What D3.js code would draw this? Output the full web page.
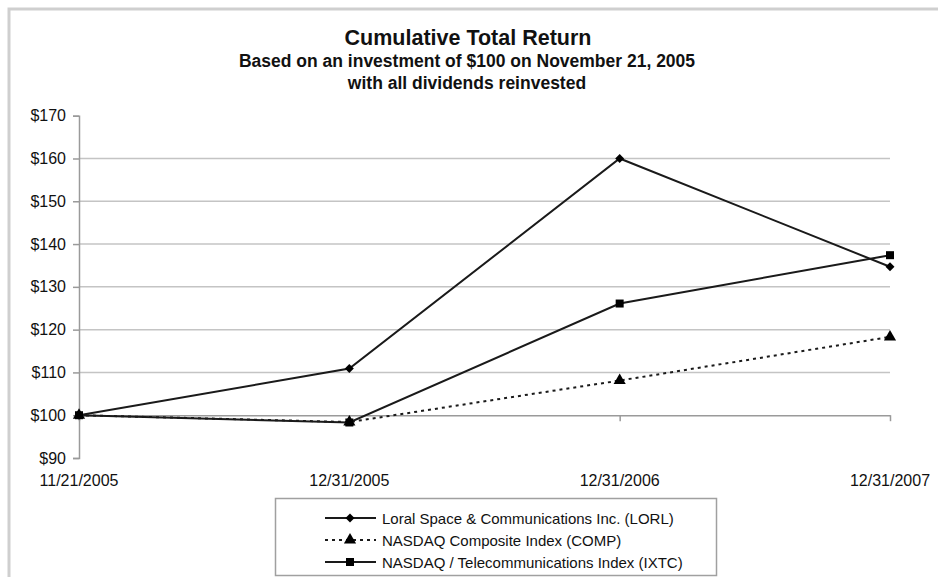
<!DOCTYPE html>
<html><head><meta charset="utf-8">
<script src="https://cdn.jsdelivr.net/npm/d3@7/dist/d3.min.js"></script>
<style>body{margin:0;background:#fff}svg{display:block}text{font-family:"Liberation Sans",Arial,sans-serif;fill:#111}</style>
</head><body>
<svg id="c" width="938" height="577"></svg>
<script>
const categories = ["11/21/2005","12/31/2005","12/31/2006","12/31/2007"];
const lorl = [100, 110.9, 160.0, 134.7];
const comp = [100, 98.4, 108.1, 118.3];
const ixtc = [100, 98.3, 126.1, 137.4];
const yTicks = [90,100,110,120,130,140,150,160,170];
const seriesNames = ["Loral Space & Communications Inc. (LORL)","NASDAQ Composite Index (COMP)","NASDAQ / Telecommunications Index (IXTC)"];

const svg = d3.select("#c");
// frame
svg.append("path").attr("d","M9,577 V9 H938").attr("fill","none").attr("stroke","#cfcfcf").attr("stroke-width",3);

// titles
svg.append("text").attr("x",468).attr("y",45).attr("text-anchor","middle").attr("font-weight","bold").attr("font-size",21.5).text("Cumulative Total Return");
svg.append("text").attr("x",467).attr("y",67).attr("text-anchor","middle").attr("font-weight","bold").attr("font-size",17.5).text("Based on an investment of $100 on November 21, 2005");
svg.append("text").attr("x",467).attr("y",89).attr("text-anchor","middle").attr("font-weight","bold").attr("font-size",17.5).text("with all dividends reinvested");

const x = d3.scalePoint().domain(categories).range([79,890]);
const y = d3.scaleLinear().domain([90,170]).range([458,115.7]);

// gridlines
svg.append("g").selectAll("line").data(yTicks.filter(t=>t>100 && t<170)).join("line")
  .attr("x1",79).attr("x2",890).attr("y1",d=>y(d)).attr("y2",d=>y(d))
  .attr("stroke","#c4c4c4").attr("stroke-width",1.5);

// y axis
const yAxis = d3.axisLeft(y).tickValues(yTicks).tickSize(6).tickPadding(7).tickFormat(d=>"$"+d);
const gy = svg.append("g").attr("transform","translate(79,0)").call(yAxis);
gy.select(".domain").attr("stroke","#9a9a9a").attr("stroke-width",1.5);
gy.selectAll(".tick line").attr("stroke","#9a9a9a").attr("stroke-width",1.5);
gy.selectAll(".tick text").attr("font-size",16).attr("font-family","Liberation Sans, Arial, sans-serif").attr("fill","#222");

// x axis at $100
const xAxis = d3.axisBottom(x).tickSize(6).tickSizeOuter(0).tickFormat(()=> "");
const gx = svg.append("g").attr("transform",`translate(0,${y(100)})`).call(xAxis);
gx.select(".domain").attr("stroke","#9a9a9a").attr("stroke-width",1.5);
gx.selectAll(".tick line").attr("stroke","#9a9a9a").attr("stroke-width",1.5);
// category labels low position
svg.append("g").selectAll("text").data(categories).join("text")
  .attr("x",d=>x(d)).attr("y",486).attr("text-anchor","middle").attr("font-size",16).attr("fill","#222").text(d=>d);

const line = d3.line().x((d,i)=>x(categories[i])).y(d=>y(d));
const series = [
  {vals:lorl, dash:null, sym:d3.symbolSquare, size:40, rot:45},
  {vals:comp, dash:"3,4", sym:d3.symbolTriangle, size:64, rot:0},
  {vals:ixtc, dash:null, sym:d3.symbolSquare, size:64, rot:0}
];
series.forEach(s=>{
  svg.append("path").datum(s.vals).attr("d",line).attr("fill","none").attr("stroke","#1a1a1a").attr("stroke-width",2)
    .attr("stroke-dasharray",s.dash);
  svg.append("g").selectAll("path").data(s.vals).join("path")
    .attr("transform",(d,i)=>`translate(${x(categories[i])},${y(d)}) rotate(${s.rot})`)
    .attr("d",d3.symbol().type(s.sym).size(s.size)).attr("fill","#000");
});

// legend
const lg = svg.append("g");
lg.append("rect").attr("x",275.5).attr("y",498.5).attr("width",441).attr("height",77).attr("fill","#fff").attr("stroke","#a0a0a0").attr("stroke-width",1.5);
const rows = [518,540,562];
series.forEach((s,i)=>{
  lg.append("line").attr("x1",325).attr("x2",376).attr("y1",rows[i]).attr("y2",rows[i]).attr("stroke","#1a1a1a").attr("stroke-width",2).attr("stroke-dasharray",s.dash);
  lg.append("path").attr("transform",`translate(350,${rows[i]}) rotate(${s.rot})`).attr("d",d3.symbol().type(s.sym).size(s.size)).attr("fill","#000");
  lg.append("text").attr("x",382).attr("y",rows[i]+5.5).attr("font-size",15).attr("fill","#222").text(seriesNames[i]);
});
</script>
</body></html>
